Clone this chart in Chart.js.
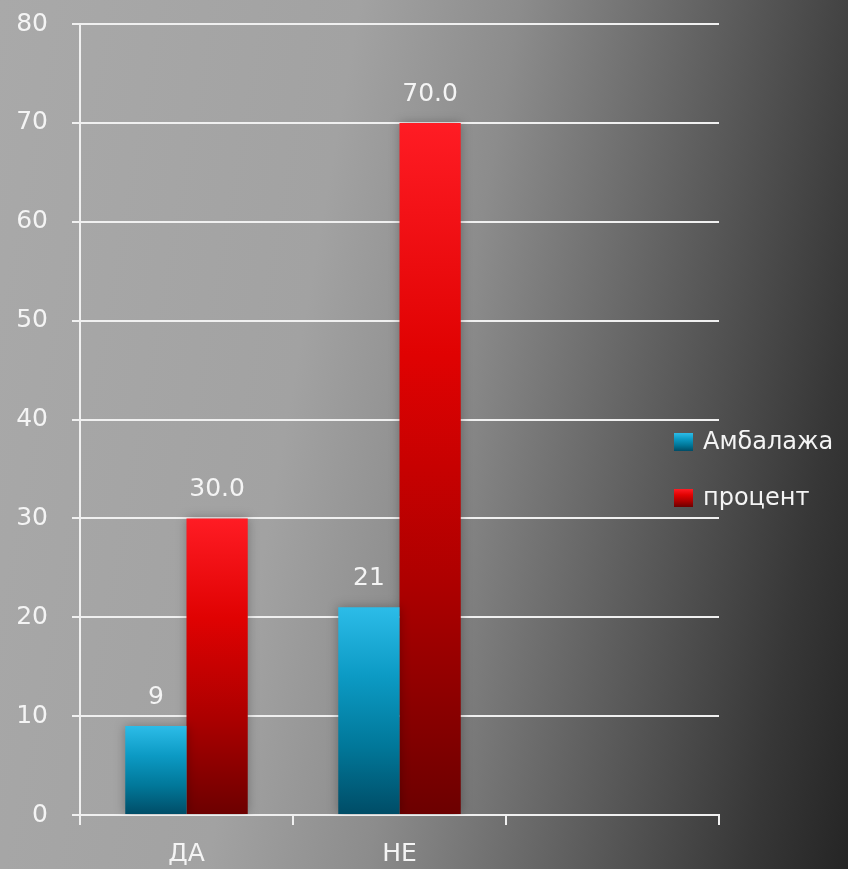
<!doctype html>
<html lang="mk">

<head>
	<meta charset="utf-8">
	<meta name="viewport" content="width=device-width, initial-scale=1">
	<title>Амбалажа</title>
	<style>
		* {
			margin: 0;
			padding: 0;
		}

		body {
			width: 848px;
			height: 869px;
			overflow: hidden;
			background: linear-gradient(100deg, #a9a9a9 0%, #a2a2a2 36%, #8c8c8c 52%, #5f5f5f 72%, #373737 90%, #252525 100%);
		}

		.chartBox {
			width: 848px;
			height: 869px;
		}
	</style>
</head>

<body>
	<div class="chartBox">
		<canvas id="packChart"></canvas>
	</div>
	<script src="https://cdn.jsdelivr.net/npm/chart.js"></script>

	<script>
		// categories and series
		const categories = ['ДА', 'НЕ', '']
		const seriesNames = ['Амбалажа', 'процент']
		const packCounts = [9, 21, null]
		const packPercent = [30.0, 70.0, null]
		const labelDigits = [0, 1]
		const yMin = 0
		const yMax = 80
		const yStep = 10

		const blueStops = ['#2cbce8', '#0c9ac4', '#01789a', '#004c66']
		const redStops = ['#ff1c24', '#e00202', '#ad0000', '#6c0000']
		const textColor = '#f4f4f4'
		const lineColor = '#f0f0f0'
		const fontFamily = '"DejaVu Sans", Verdana, sans-serif'

		// vertical gradient running from the bar top down to its base
		function barFill(stops) {
			return (c) => {
				const y = c.chart.scales.y
				if (!y || !c.parsed || c.parsed.y == null) return stops[1]
				const top = y.getPixelForValue(c.parsed.y)
				const base = y.getPixelForValue(0)
				if (!isFinite(top) || !isFinite(base) || top === base) return stops[1]
				const g = c.chart.ctx.createLinearGradient(0, top, 0, base)
				stops.forEach((col, i) => g.addColorStop(i / (stops.length - 1), col))
				return g
			}
		}

		// soft shadow under bars + value labels above them
		const barExtras = {
			id: 'barExtras',
			beforeDatasetsDraw(chart) {
				const ctx = chart.ctx
				ctx.save()
				ctx.shadowColor = 'rgba(0, 0, 0, 0.28)'
				ctx.shadowBlur = 10
			},
			afterDatasetsDraw(chart) {
				const ctx = chart.ctx
				ctx.restore()
				ctx.save()
				ctx.fillStyle = textColor
				ctx.font = '25px ' + fontFamily
				ctx.textAlign = 'center'
				ctx.textBaseline = 'alphabetic'
				chart.data.datasets.forEach((ds, i) => {
					chart.getDatasetMeta(i).data.forEach((bar, j) => {
						const v = ds.data[j]
						if (v == null) return
						ctx.fillText(v.toFixed(labelDigits[i]), bar.x, bar.y - 22)
					})
				})
				ctx.restore()
			}
		}

		// legend drawn over the right side of the plot
		const sideLegend = {
			id: 'sideLegend',
			afterDraw(chart) {
				const ctx = chart.ctx
				const x = 674
				const rows = [442, 498]
				ctx.save()
				ctx.font = '24px ' + fontFamily
				ctx.textBaseline = 'middle'
				ctx.textAlign = 'left'
				chart.data.datasets.forEach((ds, i) => {
					const cy = rows[i]
					const g = ctx.createLinearGradient(0, cy - 9, 0, cy + 9)
					ds.legendStops.forEach((col, k) => g.addColorStop(k / (ds.legendStops.length - 1), col))
					ctx.fillStyle = g
					ctx.fillRect(x, cy - 9, 19, 18)
					ctx.fillStyle = textColor
					ctx.fillText(ds.label, x + 29, cy + 1)
				})
				ctx.restore()
			}
		}

		const data = {
			labels: categories,
			datasets: [{
				label: seriesNames[0],
				data: packCounts,
				backgroundColor: barFill(blueStops),
				legendStops: blueStops,
				categoryPercentage: 0.575,
				barPercentage: 1,
			}, {
				label: seriesNames[1],
				data: packPercent,
				backgroundColor: barFill(redStops),
				legendStops: redStops,
				categoryPercentage: 0.575,
				barPercentage: 1,
			}]
		}

		const config = {
			type: 'bar',
			data: data,
			options: {
				responsive: true,
				maintainAspectRatio: false,
				animation: false,
				layout: {
					padding: { left: 0, right: 129, top: 24, bottom: 0 }
				},
				scales: {
					x: {
						ticks: {
							color: textColor,
							font: { family: fontFamily, size: 25 },
							padding: 14
						},
						grid: {
							display: true,
							drawOnChartArea: false,
							offset: true,
							color: lineColor,
							lineWidth: 2,
							tickLength: 10
						},
						border: { color: lineColor, width: 2 },
						afterFit: (scale) => { scale.height = 54 }
					},
					y: {
						min: yMin,
						max: yMax,
						ticks: {
							stepSize: yStep,
							color: textColor,
							font: { family: fontFamily, size: 25 },
							padding: 24
						},
						grid: {
							color: lineColor,
							lineWidth: 2,
							tickLength: 8
						},
						border: { color: lineColor, width: 2 },
						afterFit: (scale) => {
							scale.width = 80
							scale.paddingTop = 0
							scale.paddingBottom = 0
						}
					}
				},
				plugins: {
					legend: { display: false },
					tooltip: { enabled: false }
				}
			},
			plugins: [barExtras, sideLegend]
		}

		const packChart = new Chart(document.getElementById('packChart'), config)
	</script>

</body>

</html>
